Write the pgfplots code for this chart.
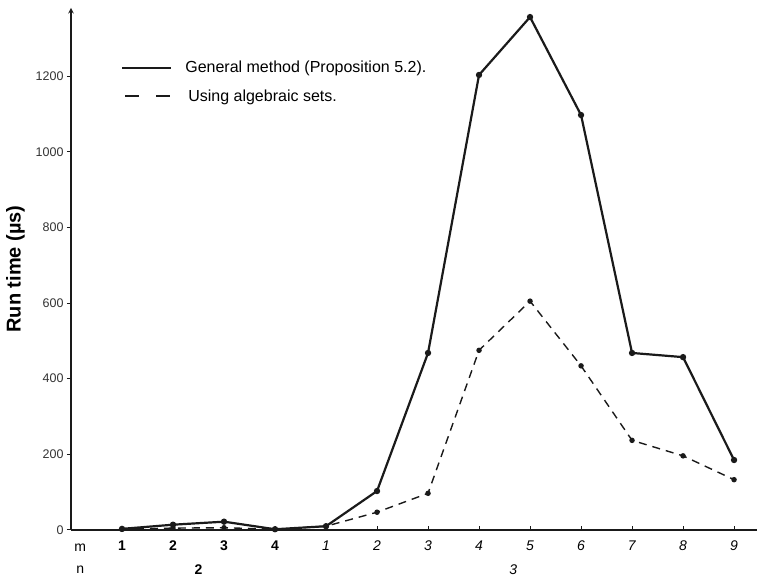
\documentclass[border=0pt]{standalone}
\usepackage{pgfplots}
\pgfplotsset{compat=1.18}
\usepackage{fontspec}
\setmainfont{Liberation Sans}
\definecolor{ink}{HTML}{1A1A1A}
\definecolor{lbl}{HTML}{333333}
\begin{document}
\begin{tikzpicture}
  % fixes the page to the reference proportions (axis box = 686 x 522 pt)
  \useasboundingbox (-71pt,-47pt) rectangle (686pt,530pt);
  \begin{axis}[
    scale only axis,
    width=686pt,
    height=522pt,
    % axes
    axis lines=left,
    axis line style={ink, line width=1.4pt},
    x axis line style={-},
    y axis line style={-stealth},
    clip=false,
    % x axis
    xmin=-1, xmax=12.45,
    xtick={0,1,...,12},
    xticklabels={\textbf{1},\textbf{2},\textbf{3},\textbf{4},
      \textit{1},\textit{2},\textit{3},\textit{4},\textit{5},
      \textit{6},\textit{7},\textit{8},\textit{9}},
    xticklabel style={font=\fontsize{14}{16}\selectfont, text=black, yshift=-7pt},
    % y axis
    ymin=0, ymax=1380,
    ytick={0,200,...,1200},
    yticklabel style={font=\fontsize{12.5}{14}\selectfont, text=lbl},
    /pgf/number format/assume math mode=true,
    /pgf/number format/1000 sep={},
    tick style={ink, line width=1pt},
    major tick length=4pt,
    ytick align=outside,
    xtick align=inside,
    ylabel={\textbf{Run time (µs)}},
    ylabel style={font=\fontsize{20}{22}\selectfont, at={(axis description cs:-0.067,0.5)}, anchor=south, inner sep=0pt},
    % legend
    legend style={draw=none, fill=none, font=\fontsize{16}{18}\selectfont,
      at={(axis cs:-0.08,1250)}, anchor=north west, row sep=11pt,
      cells={anchor=west}},
    legend image code/.code={\draw[#1, mark=none] (0pt,0pt) -- (49pt,0pt);},
  ]

    % general method
    \addplot[ink, line width=2.2pt, mark=*, mark size=2pt] coordinates {
      (0, 3) (1, 14) (2, 22) (3, 2) (4, 10) (5, 103) (6, 468)
      (7, 1203) (8, 1356) (9, 1097) (10, 468) (11, 457) (12, 185)
    };
    \addlegendentry{\hspace{11pt}General method (Proposition 5.2).}

    % algebraic sets
    \addplot[ink, line width=1.4pt, dash pattern=on 8pt off 6pt, mark=*, mark size=2pt, mark options={solid},
      legend image post style={dash pattern=on 14pt off 17pt, dash phase=-3pt}] coordinates {
      (0, 2) (1, 5) (2, 6) (3, 2) (4, 10) (5, 47) (6, 97)
      (7, 475) (8, 605) (9, 434) (10, 237) (11, 196) (12, 133)
    };
    \addlegendentry{\hspace{14pt}Using algebraic sets.}

    % row captions under the x axis
    \node[font=\fontsize{14}{16}\selectfont] at ([yshift=-18pt]axis cs:-0.82,0) {m};
    \node[font=\fontsize{14}{16}\selectfont] at ([yshift=-40pt]axis cs:-0.82,0) {n};
    \node[font=\bfseries\fontsize{14}{16}\selectfont] at ([yshift=-40pt]axis cs:1.5,0) {2};
    \node[font=\itshape\fontsize{14}{16}\selectfont] at ([yshift=-40pt]axis cs:7.67,0) {3};
  \end{axis}
\end{tikzpicture}
\end{document}
